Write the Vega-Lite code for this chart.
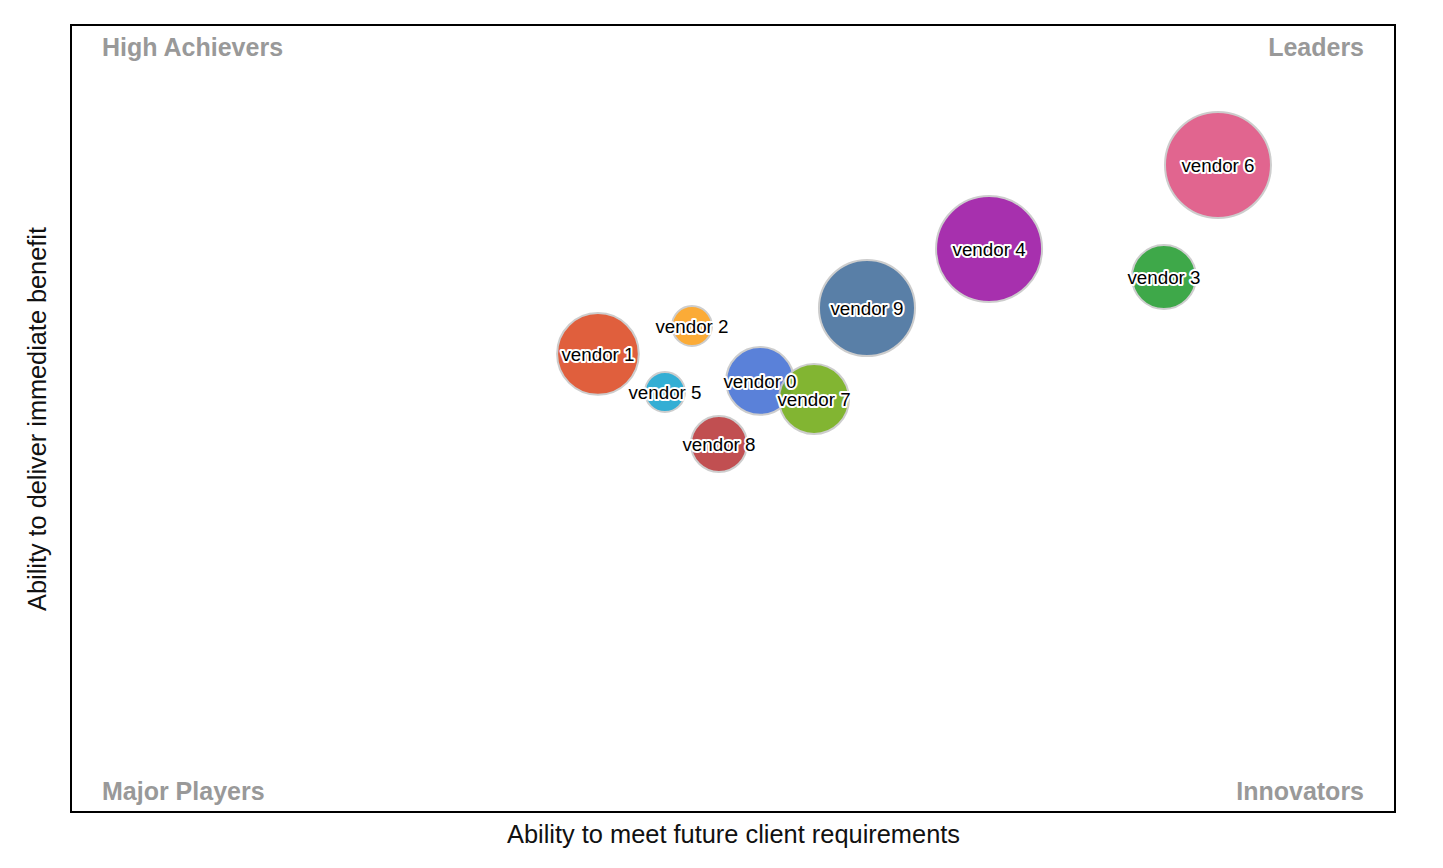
{
  "$schema": "https://vega.github.io/schema/vega-lite/v6.json",
  "width": 1324,
  "height": 787,
  "autosize": {"type": "none"},
  "padding": {"left": 71, "top": 25, "right": 48, "bottom": 56},
  "background": "white",
  "config": {
    "view": {"stroke": "#000", "strokeWidth": 2},
    "font": "Liberation Sans"
  },
  "datasets": {
    "vendors": [
      {"vendor": "vendor 0", "future": 52.04, "benefit": 54.77, "value": 40.9},
      {"vendor": "vendor 1", "future": 39.80, "benefit": 58.20, "value": 59.4},
      {"vendor": "vendor 2", "future": 46.90, "benefit": 61.75, "value": 14.2},
      {"vendor": "vendor 3", "future": 82.55, "benefit": 67.98, "value": 36.5},
      {"vendor": "vendor 4", "future": 69.34, "benefit": 71.54, "value": 100},
      {"vendor": "vendor 5", "future": 44.86, "benefit": 53.37, "value": 14.2},
      {"vendor": "vendor 6", "future": 86.63, "benefit": 82.21, "value": 100},
      {"vendor": "vendor 7", "future": 56.12, "benefit": 52.48, "value": 43.6},
      {"vendor": "vendor 8", "future": 48.94, "benefit": 46.76, "value": 27.9},
      {"vendor": "vendor 9", "future": 60.12, "benefit": 64.04, "value": 82.1}
    ],
    "quadrants": [
      {"label": "High Achievers", "future": 2.34, "benefit": 96.06, "side": "left"},
      {"label": "Major Players", "future": 2.34, "benefit": 1.52, "side": "left"},
      {"label": "Leaders", "future": 97.66, "benefit": 96.06, "side": "right"},
      {"label": "Innovators", "future": 97.66, "benefit": 1.52, "side": "right"}
    ]
  },
  "encoding": {
    "x": {
      "field": "future", "type": "quantitative",
      "scale": {"domain": [0, 100], "nice": false, "zero": false},
      "axis": {
        "title": "Ability to meet future client requirements",
        "domain": false, "ticks": false, "labels": false, "grid": false,
        "titleFont": "Liberation Sans", "titleFontSize": 25.4, "titleFontWeight": "normal",
        "titleColor": "#111", "titlePadding": 10
      }
    },
    "y": {
      "field": "benefit", "type": "quantitative",
      "scale": {"domain": [0, 100], "nice": false, "zero": false},
      "axis": {
        "title": "Ability to deliver immediate benefit",
        "domain": false, "ticks": false, "labels": false, "grid": false,
        "titleFont": "Liberation Sans", "titleFontSize": 25.3, "titleFontWeight": "normal",
        "titleColor": "#111", "titlePadding": 21
      }
    }
  },
  "layer": [
    {
      "mark": {"type": "rule", "color": "#000", "strokeWidth": 1.3},
      "encoding": {"x": {"datum": 50, "type": "quantitative"}}
    },
    {
      "mark": {"type": "rule", "color": "#000", "strokeWidth": 1.3},
      "encoding": {"y": {"datum": 50, "type": "quantitative"}}
    },
    {
      "data": {"name": "vendors"},
      "mark": {"type": "circle", "opacity": 0.9, "stroke": "#c8c8c8", "strokeWidth": 2, "strokeOpacity": 1},
      "encoding": {
        "size": {"field": "value", "type": "quantitative", "scale": {"type": "linear", "domain": [0, 100], "range": [0, 11236], "zero": true}, "legend": null},
        "color": {
          "field": "vendor", "type": "nominal", "legend": null,
          "scale": {
            "domain": ["vendor 0", "vendor 1", "vendor 2", "vendor 3", "vendor 4", "vendor 5", "vendor 6", "vendor 7", "vendor 8", "vendor 9"],
            "range": ["#4974d5", "#dd4e29", "#fba322", "#2a9f36", "#9e1aa6", "#1fa6d0", "#de5583", "#75ae1c", "#bb3c3f", "#48729e"]
          }
        }
      }
    },
    {
      "data": {"name": "vendors"},
      "mark": {"type": "text", "fontSize": 18.8, "font": "Liberation Sans", "fill": "#fff", "stroke": "#fff", "strokeWidth": 4, "strokeJoin": "round", "baseline": "middle", "align": "center", "dy": 1},
      "encoding": {"text": {"field": "vendor"}}
    },
    {
      "data": {"name": "vendors"},
      "mark": {"type": "text", "fontSize": 18.8, "font": "Liberation Sans", "color": "#000", "baseline": "middle", "align": "center", "dy": 1},
      "encoding": {"text": {"field": "vendor"}}
    },
    {
      "data": {"name": "quadrants"},
      "transform": [{"filter": "datum.side === 'left'"}],
      "mark": {"type": "text", "fontSize": 25, "fontWeight": "bold", "font": "Liberation Sans", "color": "#999", "align": "left", "baseline": "alphabetic"},
      "encoding": {"text": {"field": "label"}}
    },
    {
      "data": {"name": "quadrants"},
      "transform": [{"filter": "datum.side === 'right'"}],
      "mark": {"type": "text", "fontSize": 25, "fontWeight": "bold", "font": "Liberation Sans", "color": "#999", "align": "right", "baseline": "alphabetic"},
      "encoding": {"text": {"field": "label"}}
    }
  ]
}
